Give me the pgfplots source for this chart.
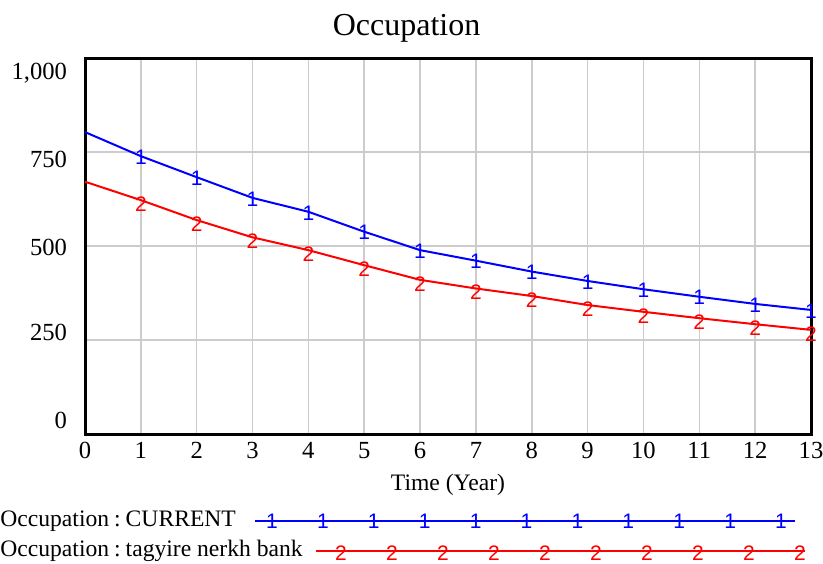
\documentclass[border=0pt]{standalone}
\usepackage{fontspec}
\setmainfont{Liberation Serif}
\newfontfamily\markfont{Liberation Sans}
\usepackage{pgfplots}
\pgfplotsset{compat=1.18}
\begin{document}
\begin{tikzpicture}
\useasboundingbox (-42.5pt,-64.5pt) rectangle (369pt,217pt);
\begin{axis}[
  at={(0,0)}, anchor=south west, scale only axis,
  width=363pt, height=188pt,
  xmin=0, xmax=13, ymin=0, ymax=1000,
  xtick={0,...,13},
  ytick={0,250,500,750,1000}, yticklabels={},
  extra y ticks={37,269,497,729,960},
  extra y tick labels={0,250,500,750,{1,000}},
  extra y tick style={grid=none, yticklabel style={xshift=-5.5pt}},
  grid=major, grid style={draw=black!20, line width=0.8pt},
  major tick length=0pt,
  axis line style={line width=1.5pt},
  /pgf/number format/assume math mode=true,
  ticklabel style={font=\fontsize{12.3}{14}\selectfont},
  xticklabel style={text height=8.5pt, text depth=0pt},
  title={Occupation},
  title style={font=\fontsize{16}{18}\selectfont, at={(axis description cs:0.443,1.088)}, anchor=center, yshift=-7.5pt},
  xlabel={Time (Year)},
  xlabel style={font=\fontsize{11.8}{13}\selectfont, at={(axis description cs:0.5,-0.1356)}, anchor=center},
  clip marker paths=false,
]
\addplot[blue, line width=1pt, mark=text, text mark={1}, text mark as node=true, mark indices={2,...,14},
  mark options={solid}, text mark style={font=\markfont\fontsize{10.5}{11}\selectfont, text=blue, inner sep=0pt, yshift=-0.5pt}]
coordinates {(0,803) (1,739) (2,683) (3,628) (4,591) (5,538) (6,489) (7,461) (8,432) (9,407) (10,385) (11,365) (12,346) (13,330)};
\addplot[red, line width=1pt, mark=text, text mark={2}, text mark as node=true, mark indices={2,...,14},
  mark options={solid}, text mark style={font=\markfont\fontsize{10.5}{11}\selectfont, text=red, inner sep=0pt, yshift=-2pt}]
coordinates {(0,671) (1,622) (2,569) (3,523) (4,489) (5,449) (6,410) (7,387) (8,367) (9,343) (10,325) (11,308) (12,292) (13,277)};
\end{axis}
% legend
\node[anchor=west, inner sep=0pt, font=\fontsize{11.8}{13}\selectfont] at (-42.5pt,-43.5pt) {Occupation\hspace{2.5pt}:\hspace{2.5pt}CURRENT};
\node[anchor=west, inner sep=0pt, font=\fontsize{11.8}{13}\selectfont] at (-42.5pt,-58.5pt) {Occupation\hspace{2.5pt}:\hspace{2.5pt}tagyire nerkh bank};
\draw[blue, line width=1pt] (85pt,-43.5pt) -- (355pt,-43.5pt);
\foreach \k in {0,...,10} {\node[text=blue, inner sep=0pt, font=\markfont\fontsize{10.5}{11}\selectfont] at ({93.5pt+\k*25.45pt},-43.5pt) {1};}
\draw[red, line width=1pt] (115.5pt,-58.5pt) -- (360pt,-58.5pt);
\foreach \k in {0,...,9} {\node[text=red, inner sep=0pt, font=\markfont\fontsize{10.5}{11}\selectfont] at ({128pt+\k*25.5pt},-59.5pt) {2};}
\end{tikzpicture}
\end{document}
